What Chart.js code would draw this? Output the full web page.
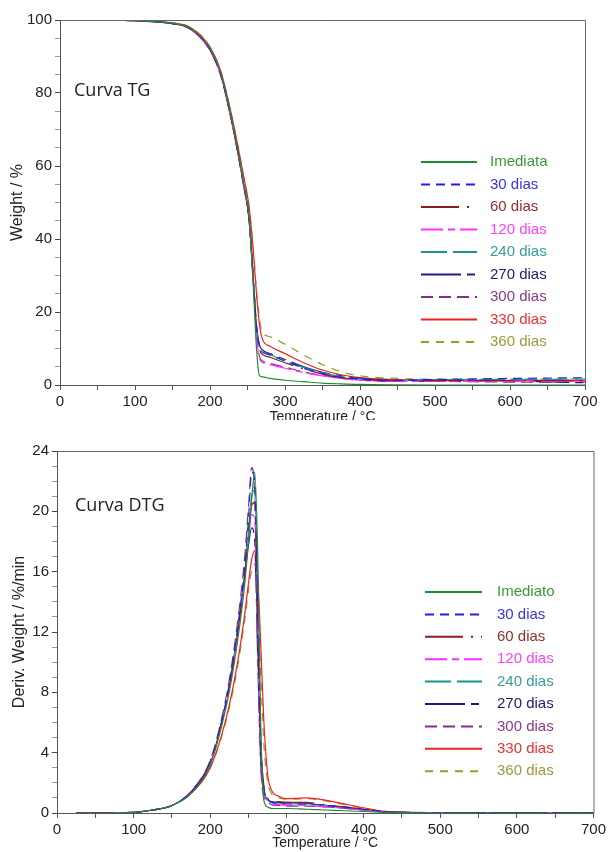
<!DOCTYPE html>
<html>
<head>
<meta charset="utf-8">
<script src="https://cdn.jsdelivr.net/npm/chart.js@4.4.0/dist/chart.umd.min.js"></script>
<style>
  body { margin: 0; background: #fff; }
  #wrap { position: relative; width: 609px; height: 852px; overflow: hidden; }
  canvas { position: absolute; left: 0; background: #fff; }
  #tgChart { top: 0; z-index: 1; }
  #dtgChart { top: 420px; z-index: 2; }
</style>
</head>
<body>
<div id="wrap">
  <canvas id="tgChart" width="609" height="430"></canvas>
  <canvas id="dtgChart" width="609" height="432"></canvas>
</div>
<script>
// series names (top chart says "Imediata", bottom one "Imediato")
const labelsTG = ['Imediata', '30 dias', '60 dias', '120 dias', '240 dias', '270 dias', '300 dias', '330 dias', '360 dias'];
const labelsDTG = ['Imediato', '30 dias', '60 dias', '120 dias', '240 dias', '270 dias', '300 dias', '330 dias', '360 dias'];

// TG curves, weight % vs temperature
const tgTemps = [25, 50, 100, 150, 175, 200, 215, 225, 235, 245, 252, 258, 262, 266, 270, 280, 300, 325, 350, 375, 400, 450, 500, 600, 700];
const tgImediata = [100, 100, 99.8, 99.1, 97.6, 92.2, 85, 76.5, 66.5, 55, 46, 26, 10, 2.6, 2.2, 1.8, 1.3, 0.9, 0.5, 0.3, 0.15, 0.05, 0, 0, 0];
const tg30 = [100, 100, 99.8, 99.0, 97.4, 91.8, 84.5, 76, 66, 54.5, 45.5, 28, 16, 10.5, 9.2, 8.2, 6.6, 4.6, 3.1, 2.1, 1.6, 1.3, 1.5, 1.8, 2.0];
const tg60 = [100, 100, 99.8, 99.0, 97.5, 92, 84.7, 76.2, 66.2, 54.8, 45.8, 28.5, 15.5, 9.8, 8.4, 7.6, 6.1, 4.4, 3.0, 2.0, 1.5, 1.2, 1.2, 1.2, 1.2];
const tg120 = [100, 100, 99.8, 99.0, 97.3, 91.6, 84.3, 75.8, 65.8, 54.3, 45.2, 27, 13.5, 7.2, 6.2, 5.6, 4.6, 3.4, 2.5, 1.8, 1.3, 1.0, 1.0, 1.0, 1.0];
const tg240 = [100, 100, 99.8, 99.1, 97.5, 92, 84.8, 76.3, 66.3, 54.9, 45.9, 28.5, 16, 10.5, 9.0, 8.3, 6.5, 4.8, 3.3, 2.3, 1.6, 1.3, 1.5, 1.5, 1.6];
const tg270 = [100, 100, 99.8, 99.0, 97.4, 91.9, 84.6, 76.1, 66.1, 54.6, 45.6, 28.2, 16.5, 11, 9.6, 8.6, 7.0, 5.0, 3.5, 2.5, 1.8, 1.3, 1.3, 1.1, 0.6];
const tg300 = [100, 100, 99.8, 99.0, 97.3, 91.7, 84.4, 75.9, 65.9, 54.4, 45.3, 27.5, 14, 7.8, 6.6, 5.9, 4.9, 3.6, 2.6, 1.8, 1.3, 1.0, 1.0, 0.8, 0.8];
const tg330 = [100, 100, 99.8, 99.2, 97.8, 92.6, 85.6, 77.4, 67.8, 57, 49, 36, 25, 16.5, 12.5, 10.6, 8.6, 6.1, 4.1, 2.8, 2.0, 1.5, 1.3, 1.3, 1.2];
const tg360 = [100, 100, 99.8, 99.2, 97.8, 92.5, 85.5, 77.3, 67.7, 56.8, 48.8, 36.5, 26, 18, 14.5, 13.2, 11.2, 8.2, 5.6, 3.6, 2.5, 1.8, 1.6, 1.6, 1.6];

// DTG curves, %/min vs temperature
const dtgTemps = [25, 50, 100, 125, 150, 175, 200, 215, 225, 235, 245, 250, 254, 258, 262, 266, 270, 275, 280, 290, 300, 325, 350, 375, 400, 425, 450, 500, 600, 700];
const dtgImediato = [0, 0, 0.05, 0.2, 0.5, 1.3, 3.2, 5.8, 8.1, 11.2, 15.2, 18.2, 20.8, 22.6, 17, 5.5, 0.8, 0.4, 0.3, 0.3, 0.3, 0.25, 0.2, 0.15, 0.1, 0.05, 0.03, 0, 0, 0];
const dtg30 = [0, 0, 0.05, 0.2, 0.5, 1.4, 3.4, 6.1, 8.6, 12, 16.4, 19.6, 22.6, 22, 13, 4, 1.6, 0.9, 0.7, 0.65, 0.6, 0.6, 0.5, 0.4, 0.25, 0.1, 0.05, 0.03, 0.02, 0.02];
const dtg60 = [0, 0, 0.05, 0.2, 0.5, 1.35, 3.3, 6, 8.4, 11.7, 15.8, 18.6, 20.4, 20.6, 12, 4.5, 1.8, 1.0, 0.8, 0.75, 0.7, 0.7, 0.55, 0.4, 0.25, 0.1, 0.05, 0.03, 0.02, 0.02];
const dtg120 = [0, 0, 0.05, 0.2, 0.5, 1.4, 3.3, 6, 8.4, 11.6, 15.6, 18.2, 19.8, 19.5, 11, 3.5, 1.3, 0.8, 0.6, 0.55, 0.5, 0.5, 0.4, 0.3, 0.2, 0.08, 0.04, 0.02, 0.02, 0.02];
const dtg240 = [0, 0, 0.05, 0.2, 0.5, 1.35, 3.3, 6, 8.4, 11.7, 15.9, 18.8, 21, 21.4, 14, 5, 1.6, 0.9, 0.7, 0.65, 0.6, 0.6, 0.5, 0.35, 0.2, 0.08, 0.04, 0.02, 0.02, 0.02];
const dtg270 = [0, 0, 0.05, 0.2, 0.5, 1.4, 3.4, 6.1, 8.5, 11.8, 15.8, 17.8, 18.9, 18, 10, 3.2, 1.4, 0.9, 0.75, 0.7, 0.7, 0.65, 0.5, 0.35, 0.2, 0.08, 0.04, 0.02, 0.02, 0.02];
const dtg300 = [0, 0, 0.05, 0.2, 0.5, 1.45, 3.5, 6.3, 8.9, 12.4, 17, 20.4, 22.9, 21, 11, 3, 1.1, 0.7, 0.55, 0.5, 0.45, 0.45, 0.4, 0.3, 0.2, 0.08, 0.04, 0.02, 0.02, 0.02];
const dtg330 = [0, 0, 0.05, 0.2, 0.5, 1.3, 3.0, 5.2, 7.2, 9.8, 13.2, 15.3, 16.8, 17.4, 15.5, 11, 6, 2.5, 1.5, 1.1, 0.95, 1.0, 0.85, 0.6, 0.35, 0.12, 0.05, 0.03, 0.02, 0.02];
const dtg360 = [0, 0, 0.05, 0.2, 0.5, 1.3, 3.0, 5.1, 7.0, 9.5, 12.8, 14.8, 16.1, 16.5, 14, 9, 4.5, 2, 1.3, 1.0, 0.9, 0.95, 0.8, 0.55, 0.3, 0.1, 0.05, 0.03, 0.02, 0.02];

const lineColors = ['#1e8c32', '#2020e6', '#8c1c1c', '#ff30ff', '#17968a', '#1c1c82', '#8a2a96', '#f02020', '#9a9a2a'];
const textColors = ['#3a9a3a', '#3535e0', '#8a3030', '#ff40ff', '#3a9a9a', '#202070', '#8a3a8a', '#ee3030', '#9a9a40'];
const lineDashes = [[], [9, 6], [38, 8, 2, 8], [22, 5, 7, 5], [26, 6], [40, 6, 8, 6], [12, 6], [], [8, 7]];

const sans = '"Liberation Sans", Arial, sans-serif';

function makeSets(temps, lists, labels) {
  return lists.map((vals, i) => ({
    label: labels[i],
    data: temps.map((t, j) => ({ x: t, y: vals[j] })),
    borderColor: lineColors[i],
    borderDash: lineDashes[i],
    borderWidth: 1.2,
    pointRadius: 0,
    cubicInterpolationMode: 'monotone',
    fill: false
  }));
}

// frame on top and right of the plot
const frame = {
  id: 'frame',
  afterDraw(chart) {
    const { ctx, chartArea: a } = chart;
    ctx.save();
    ctx.strokeStyle = '#666';
    ctx.lineWidth = 1;
    ctx.beginPath();
    ctx.moveTo(a.left, a.top + 0.5);
    ctx.lineTo(a.right + 0.5, a.top + 0.5);
    ctx.lineTo(a.right + 0.5, a.bottom);
    ctx.stroke();
    ctx.restore();
  }
};

// "Curva TG" note and the legend drawn inside the plot
const inside = {
  id: 'inside',
  afterDraw(chart, args, o) {
    const ctx = chart.ctx;
    ctx.save();
    ctx.font = '18px "Open Sans", "Noto Sans", sans-serif';
    ctx.fillStyle = '#222';
    ctx.textBaseline = 'middle';
    ctx.fillText(o.note, o.noteX, o.noteY);

    ctx.font = '15px ' + sans;
    chart.data.datasets.forEach((ds, i) => {
      const y = o.y + i * o.step;
      ctx.strokeStyle = ds.borderColor;
      ctx.lineWidth = 2;
      ctx.setLineDash(lineDashes[i]);
      ctx.beginPath();
      ctx.moveTo(o.x1, y);
      ctx.lineTo(o.x2, y);
      ctx.stroke();
      ctx.setLineDash([]);
      ctx.fillStyle = textColors[i];
      ctx.fillText(ds.label, o.textX, y);
    });
    ctx.restore();
  }
};

function axisX(height, titlePad) {
  return {
    type: 'linear',
    min: 0,
    max: 700,
    afterFit: s => { s.height = height; },
    ticks: {
      stepSize: 50,
      autoSkip: false,
      maxRotation: 0,
      padding: 3,
      color: '#222',
      font: { family: sans, size: 15 },
      callback: v => (v % 100 === 0 ? v : '')
    },
    grid: {
      drawOnChartArea: false,
      tickLength: 5,
      tickColor: '#555'
    },
    border: { color: '#555', width: 1 },
    title: {
      display: true,
      text: 'Temperature / °C',
      color: '#222',
      font: { family: sans, size: 14 },
      padding: { top: 0, bottom: titlePad }
    }
  };
}

function axisY(max, step, major, width, title, titlePad) {
  return {
    min: 0,
    max: max,
    afterFit: s => { s.width = width; },
    ticks: {
      stepSize: step,
      autoSkip: false,
      padding: 3,
      color: '#222',
      font: { family: sans, size: 15 },
      callback: v => (v % major === 0 ? v : '')
    },
    grid: {
      drawOnChartArea: false,
      tickLength: 5,
      tickColor: c => (c.tick && c.tick.value % major === 0 ? '#444' : '#999')
    },
    border: { color: '#555', width: 1 },
    title: {
      display: true,
      text: title,
      color: '#222',
      font: { family: sans, size: 16 },
      padding: { top: titlePad, bottom: 0 }
    }
  };
}

new Chart(document.getElementById('tgChart'), {
  type: 'line',
  data: {
    datasets: makeSets(tgTemps, [tgImediata, tg30, tg60, tg120, tg240, tg270, tg300, tg330, tg360], labelsTG)
  },
  options: {
    responsive: false,
    animation: false,
    layout: { padding: { top: 20, right: 24, left: 0, bottom: 0 } },
    scales: {
      x: axisX(45, 4),
      y: axisY(100, 5, 20, 60, 'Weight / %', 8)
    },
    plugins: {
      legend: { display: false },
      tooltip: { enabled: false },
      inside: { note: 'Curva TG', noteX: 74, noteY: 91, x1: 421, x2: 477, textX: 490, y: 162, step: 22.5 }
    }
  },
  plugins: [frame, inside]
});

new Chart(document.getElementById('dtgChart'), {
  type: 'line',
  data: {
    datasets: makeSets(dtgTemps, [dtgImediato, dtg30, dtg60, dtg120, dtg240, dtg270, dtg300, dtg330, dtg360], labelsDTG)
  },
  options: {
    responsive: false,
    animation: false,
    layout: { padding: { top: 31, right: 14, left: 0, bottom: 0 } },
    scales: {
      x: axisX(39, 0),
      y: axisY(24, 1, 4, 57, 'Deriv. Weight / %/min', 10)
    },
    plugins: {
      legend: { display: false },
      tooltip: { enabled: false },
      inside: { note: 'Curva DTG', noteX: 75, noteY: 86, x1: 425, x2: 482, textX: 497, y: 172, step: 22.4 }
    }
  },
  plugins: [frame, inside]
});
</script>
</body>
</html>
